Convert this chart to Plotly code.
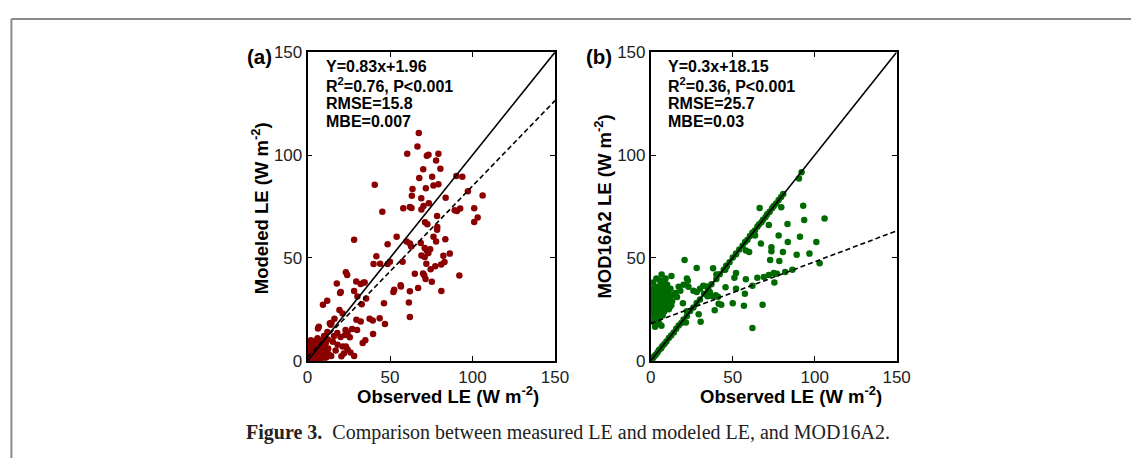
import plotly.graph_objects as go

# panel (a): observed vs modeled LE
obs_a = [67.4, 66.6, 60.4, 72.3, 73.3, 79.3, 77.9, 70.1, 80.5, 67.7, 75.5, 40.7, 79.3, 71.7, 76.3, 63.6,
         90.2, 93.8, 97.2, 106.1, 63.2, 68.9, 83.7, 45.3, 58.0, 62.0, 63.0, 69.0, 70.3, 73.5, 89.2, 90.5,
         92.5, 101.0, 103.1, 101.0, 71.2, 72.6, 78.6, 78.5, 78.5, 28.2, 54.0, 48.5, 60.0, 62.0, 68.6, 71.0,
         72.2, 73.2, 74.3, 76.3, 77.9, 83.5, 86.2, 82.3, 69.0, 71.0, 62.8, 41.7, 40.0, 44.0, 48.5, 49.9,
         57.6, 72.0, 81.0, 83.0, 74.6, 77.4, 92.0, 65.0, 70.0, 70.7, 71.5, 75.3, 81.1, 67.0, 56.4, 56.6,
         52.0, 52.5, 62.0, 61.4, 62.0, 46.3, 46.9, 32.2, 34.0, 29.5, 34.6, 35.5, 32.8, 30.2, 28.2, 19.7,
         20.1, 17.7, 23.2, 24.0, 19.3, 11.9, 9.3, 6.3, 6.8, 43.7, 28.2,
         21.2, 16.3, 14.0, 14.5, 13.5, 24.2, 22.7, 25.6, 16.0, 18.0, 20.0, 29.6, 32.2, 37.6, 39.5, 33.4,
         39.7, 12.3, 15.3, 18.2, 21.2, 24.2, 20.5, 14.3, 11.3, 23.2, 26.0, 22.0, 17.0, 35.0, 30.0, 27.0,
         23.0, 12.0, 10.0,
         0.5, 1.0, 1.5, 2.0, 2.5, 3.0, 3.0, 3.5, 4.0, 4.0, 4.5, 5.0, 5.0, 5.0, 5.5, 6.0, 6.0, 6.5, 6.5,
         7.0, 7.0, 7.5, 8.0, 8.0, 8.0, 8.5, 9.0, 9.0, 9.5, 10.0, 10.0, 10.5, 11.0, 2.0, 1.0, 0.5, 1.5,
         3.0, 4.0, 2.0, 5.5, 6.0, 3.5, 7.5, 12.0, 12.5, 13.0, 1.0, 2.2, 4.8]
mod_a = [110.7, 104.1, 100.6, 99.7, 100.1, 100.6, 97.4, 93.1, 93.4, 88.8, 89.5, 85.6, 85.8, 83.9, 85.2, 83.5,
         89.8, 89.5, 82.4, 80.4, 80.2, 79.0, 79.3, 72.4, 74.1, 74.8, 74.3, 73.5, 75.2, 76.6, 73.2, 72.8,
         74.0, 74.1, 69.6, 67.5, 67.3, 66.4, 65.0, 70.4, 63.7, 58.8, 60.3, 56.7, 58.0, 57.0, 57.2, 54.8,
         53.6, 52.3, 54.2, 60.3, 58.0, 59.1, 52.1, 51.0, 51.2, 50.5, 55.5, 50.8, 47.0, 47.2, 47.0, 48.2,
         48.2, 47.2, 46.8, 48.0, 44.5, 46.0, 41.5, 42.3, 42.4, 41.6, 39.7, 38.4, 33.9, 35.4, 36.7, 36.1,
         33.5, 34.5, 33.8, 28.3, 21.3, 28.0, 17.9, 37.3, 38.1, 38.5, 38.0, 30.3, 27.5, 31.2, 33.9, 33.0,
         33.5, 37.6, 43.0, 41.7, 24.7, 29.2, 27.2, 15.7, 16.5, 20.7, 2.3,
         23.0, 20.5, 17.5, 18.5, 18.3, 13.7, 12.5, 11.4, 12.0, 13.5, 11.6, 19.9, 19.1, 20.5, 19.6, 8.6,
         13.0, 10.4, 9.3, 7.8, 7.0, 5.5, 2.2, 2.3, 1.6, 7.0, 4.0, 3.5, 5.0, 10.0, 15.0, 15.5,
         15.0, 14.0, 12.0,
         0.5, 2.0, 1.0, 3.0, 0.8, 2.0, 4.5, 6.0, 1.5, 3.0, 5.0, 0.5, 2.5, 7.0, 4.0, 1.0, 6.0, 3.0, 8.0,
         2.0, 5.0, 9.0, 1.0, 3.5, 6.5, 10.0, 2.5, 5.0, 7.5, 1.0, 4.0, 6.0, 8.5, 5.0, 3.5, 6.0, 8.0,
         8.0, 9.5, 10.0, 9.0, 11.0, 0.3, 0.5, 4.0, 6.0, 3.0, 0.2, 1.8, 3.8]

# panel (b): observed vs MOD16A2 LE
obs_b = [0.5, 1.2, 2.0, 3.0, 4.1, 5.0, 6.2, 7.0, 8.3, 9.5, 11.0, 12.4, 14.0, 15.5, 17.0, 18.6, 20.0, 22.0,
         24.0, 26.0, 28.0, 30.0, 32.5, 35.0, 37.0, 40.0, 42.0, 44.5, 46.0, 48.0, 50.0, 52.0, 54.0, 56.0,
         57.5, 59.0, 60.5, 62.0, 63.5, 65.0, 66.0, 67.5, 68.5, 70.0, 71.0, 72.5, 74.0, 75.0, 76.5, 78.0,
         79.5, 80.8, 90.4, 92.0,
         0.5, 0.8, 1.0, 1.2, 1.5, 1.8, 2.0, 2.2, 2.5, 2.8, 3.0, 3.2, 3.5, 3.8, 4.0, 4.2, 4.5, 4.8, 5.0,
         5.0, 5.5, 5.8, 6.0, 6.2, 6.5, 6.8, 7.0, 7.2, 7.5, 7.8, 8.0, 8.2, 8.5, 8.8, 9.0, 9.3, 9.5, 10.0,
         10.3, 10.8, 11.0, 11.5, 12.0, 12.6, 13.0, 14.0, 0.3, 0.6, 1.4, 2.6, 3.4, 4.4, 5.2, 6.5, 1.0,
         2.0, 3.0, 4.0, 5.5, 7.0, 8.0, 9.0, 10.0, 0.4, 1.6, 2.4, 3.6, 4.6, 5.6, 6.6,
         20.6, 28.0, 22.6, 20.0, 22.0, 23.0, 17.0, 18.0, 15.0, 16.0, 19.6, 22.0, 21.4, 12.0, 12.5, 11.5,
         26.0, 28.0, 30.0, 29.2, 30.4, 32.0, 34.0, 36.0, 34.6, 37.6, 39.6, 41.0, 43.0, 41.4, 39.0, 46.4,
         45.4, 52.0, 51.0, 45.6, 52.0, 57.4, 56.8, 50.0, 58.0, 62.0, 62.0, 65.0, 68.2, 69.0, 72.0, 75.0,
         77.0, 75.4, 82.0, 86.4, 72.8, 78.4, 103.0, 58.0, 60.0, 52.0, 80.6, 89.0, 96.8, 73.6, 73.6, 67.2,
         83.6, 101.0, 62.4, 63.6, 78.0, 91.0, 72.0, 83.4, 66.4, 79.6, 93.0, 93.6, 106.0, 40.0, 38.0]
mod_b = [0.6, 1.1, 2.1, 2.9, 4.0, 5.2, 6.0, 7.1, 8.2, 9.4, 11.1, 12.3, 13.8, 15.6, 17.2, 18.4, 20.1, 21.8,
         24.2, 25.9, 28.1, 29.8, 32.6, 34.9, 37.2, 39.8, 42.1, 44.3, 46.2, 47.9, 50.2, 51.8, 54.1, 55.9,
         57.7, 58.8, 60.6, 62.2, 63.3, 65.1, 66.2, 67.4, 68.6, 69.9, 71.2, 72.4, 74.1, 75.2, 76.4, 78.1,
         79.6, 81.1, 88.6, 91.7,
         22.0, 25.0, 28.0, 31.0, 19.0, 34.0, 24.0, 27.0, 30.0, 21.0, 36.0, 26.0, 23.0, 29.0, 32.0, 18.0,
         25.0, 28.0, 34.0, 21.0, 27.0, 30.0, 24.0, 37.0, 32.0, 26.0, 29.0, 22.0, 35.0, 27.0, 31.0, 24.0,
         38.0, 29.0, 33.0, 26.0, 36.0, 30.0, 28.0, 33.0, 25.0, 31.0, 35.0, 41.2, 29.0, 32.0, 33.0, 29.0,
         38.0, 16.5, 40.0, 20.0, 18.0, 17.0, 35.0, 32.5, 31.0, 27.5, 33.0, 38.0, 35.0, 40.0, 37.0, 26.5,
         23.0, 35.0, 33.5, 36.0, 39.0, 42.0,
         49.0, 45.1, 38.9, 37.0, 40.0, 36.0, 36.0, 34.0, 33.0, 31.0, 28.0, 24.1, 18.6, 29.0, 27.0, 26.0,
         34.0, 33.5, 35.0, 22.6, 19.0, 36.5, 36.1, 33.4, 31.4, 31.4, 31.9, 31.1, 27.2, 27.7, 24.6, 45.9,
         44.3, 42.7, 40.4, 35.8, 35.0, 32.6, 26.8, 28.0, 39.6, 36.5, 16.0, 40.4, 27.2, 40.7, 41.7, 42.7,
         42.3, 38.1, 43.2, 44.3, 49.0, 48.5, 47.4, 53.6, 52.9, 52.1, 52.9, 51.6, 52.1, 55.2, 53.2, 57.0,
         57.8, 57.8, 62.2, 60.9, 60.9, 60.3, 66.0, 66.5, 74.3, 74.6, 75.4, 68.4, 69.2, 42.0, 45.0]

# fitted regression lines
slope_a, intercept_a = 0.83, 1.96
slope_b, intercept_b = 0.3, 18.15
axis_range = [0, 150]
tick_vals = [0, 50, 100, 150]

stats_a = ['Y=0.83x+1.96', 'R<sup>2</sup>=0.76, P<0.001', 'RMSE=15.8', 'MBE=0.007']
stats_b = ['Y=0.3x+18.15', 'R<sup>2</sup>=0.36, P<0.001', 'RMSE=25.7', 'MBE=0.03']

W, H = 1145, 468


def px(x):
    return x / W


def py(y):
    return (H - y) / H


fig = go.Figure()

fig.add_trace(go.Scatter(x=obs_a, y=mod_a, mode='markers', xaxis='x', yaxis='y',
                         marker=dict(color='#8b0000', size=6.5), showlegend=False))
fig.add_trace(go.Scatter(x=obs_b, y=mod_b, mode='markers', xaxis='x2', yaxis='y2',
                         marker=dict(color='#006b00', size=6.5), showlegend=False))

for xa, ya, slope, intercept in [('x', 'y', slope_a, intercept_a), ('x2', 'y2', slope_b, intercept_b)]:
    fig.add_trace(go.Scatter(x=axis_range, y=axis_range, mode='lines', xaxis=xa, yaxis=ya,
                             line=dict(color='black', width=1.6), showlegend=False))
    fig.add_trace(go.Scatter(x=axis_range, y=[slope * v + intercept for v in axis_range],
                             mode='lines', xaxis=xa, yaxis=ya,
                             line=dict(color='black', width=1.6, dash='5px,3px'), showlegend=False))

axis_style = dict(range=axis_range, tickvals=tick_vals, ticks='inside', ticklen=5, tickwidth=1.2,
                  tickcolor='black', showline=True, linecolor='black', linewidth=1.8, mirror='ticks',
                  showgrid=False, zeroline=False,
                  tickfont=dict(family='Liberation Sans, Arial', size=17, color='#222'))

fig.update_layout(
    width=W, height=H,
    margin=dict(l=0, r=0, t=0, b=0),
    paper_bgcolor='white', plot_bgcolor='white',
    xaxis=dict(domain=[px(307.7), px(559.3)], anchor='y', **axis_style),
    yaxis=dict(domain=[py(366.7), py(45)], anchor='x', **axis_style),
    xaxis2=dict(domain=[px(656.7), px(906.7)], anchor='y2', **axis_style),
    yaxis2=dict(domain=[py(366.7), py(45)], anchor='x2', **axis_style),
)

bold = dict(family='Liberation Sans, Arial', color='black')
ann = []
for x0, lines in [(324.3, stats_a), (671.7, stats_b)]:
    for i, t in enumerate(lines):
        ann.append(dict(x=px(x0), y=py(60 + 19 * i), xref='paper', yref='paper', text='<b>' + t + '</b>',
                        showarrow=False, xanchor='left', yanchor='middle', font=dict(size=16, **bold)))

for x0, t in [(259, '(a)'), (604, '(b)')]:
    ann.append(dict(x=px(x0), y=py(50), xref='paper', yref='paper', text='<b>' + t + '</b>',
                    showarrow=False, xanchor='center', yanchor='middle', font=dict(size=20.5, **bold)))

for x0 in [450.5, 799]:
    ann.append(dict(x=px(x0), y=py(402), xref='paper', yref='paper',
                    text='<b>Observed LE (W m<sup>-2</sup>)</b>',
                    showarrow=False, xanchor='center', yanchor='middle', font=dict(size=18.5, **bold)))

for x0, yc, t in [(259, 208, 'Modeled LE (W m<sup>-2</sup>)'), (608, 206, 'MOD16A2 LE (W m<sup>-2</sup>)')]:
    ann.append(dict(x=px(x0), y=py(yc), xref='paper', yref='paper', text='<b>' + t + '</b>',
                    showarrow=False, xanchor='center', yanchor='middle', textangle=-90,
                    font=dict(size=18.5, **bold)))

ann.append(dict(x=px(572), y=py(441), xref='paper', yref='paper',
                text='<b>Figure 3.</b>  Comparison between measured LE and modeled LE, and MOD16A2.',
                showarrow=False, xanchor='center', yanchor='middle',
                font=dict(family='Liberation Serif, Times New Roman', size=20, color='#222')))

fig.update_layout(annotations=ann)

# page frame lines (top and left)
fig.update_layout(shapes=[
    dict(type='line', xref='paper', yref='paper', x0=px(6.5), x1=1, y0=py(10.5), y1=py(10.5),
         line=dict(color='#8a8a8a', width=2)),
    dict(type='line', xref='paper', yref='paper', x0=px(6.5), x1=px(6.5), y0=0, y1=py(10.5),
         line=dict(color='#8a8a8a', width=2)),
])

# drop the page's default body margin so the figure sits at the window's corner
fig.write_html('out.html', config={'displayModeBar': False},
               post_script="document.body.style.margin='0';")
